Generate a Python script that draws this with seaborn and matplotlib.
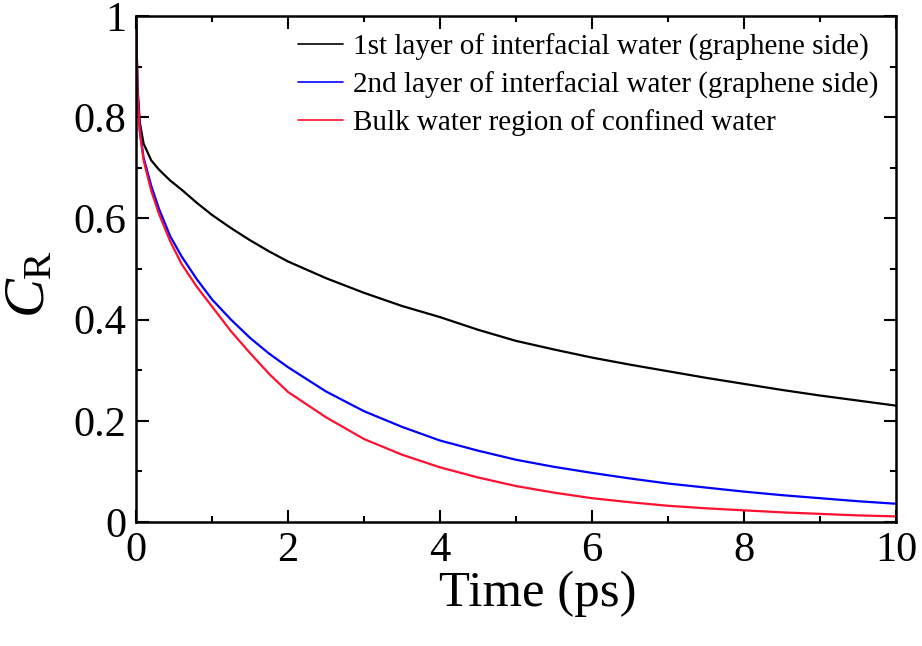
import matplotlib
matplotlib.use("Agg")
import matplotlib.pyplot as plt
from matplotlib.ticker import MultipleLocator, FuncFormatter
import pandas as pd
import seaborn as sns

time_ps = [0, 0.02, 0.05, 0.1, 0.2, 0.3, 0.45, 0.6, 0.8, 1, 1.25, 1.5, 1.75,
           2, 2.5, 3, 3.5, 4, 4.5, 5, 5.5, 6, 6.5, 7, 7.5, 8, 8.5, 9, 9.5, 10]

layer1 = [1.0, 0.86, 0.79, 0.748, 0.715, 0.697, 0.675, 0.657, 0.631, 0.607,
          0.581, 0.557, 0.535, 0.515, 0.482, 0.453, 0.427, 0.405, 0.38,
          0.358, 0.341, 0.325, 0.311, 0.298, 0.285, 0.273, 0.261, 0.250,
          0.240, 0.230]

layer2 = [1.0, 0.85, 0.775, 0.72, 0.665, 0.62, 0.565, 0.525, 0.48, 0.44,
          0.40, 0.364, 0.333, 0.306, 0.258, 0.219, 0.188, 0.161, 0.141,
          0.123, 0.109, 0.097, 0.086, 0.076, 0.068, 0.060, 0.053, 0.047,
          0.041, 0.036]

bulk = [1.0, 0.85, 0.77, 0.715, 0.655, 0.61, 0.555, 0.51, 0.465, 0.426,
        0.377, 0.334, 0.293, 0.257, 0.207, 0.164, 0.133, 0.108, 0.088,
        0.071, 0.058, 0.047, 0.039, 0.032, 0.027, 0.023, 0.019, 0.016,
        0.013, 0.011]

labels = ["1st layer of interfacial water (graphene side)",
          "2nd layer of interfacial water (graphene side)",
          "Bulk water region of confined water"]
colors = ["#000000", "#0000ff", "#ff1030"]


def build_frame():
    frames = []
    for lab, vals in zip(labels, [layer1, layer2, bulk]):
        frames.append(pd.DataFrame({"Time": time_ps, "CR": vals, "Region": lab}))
    return pd.concat(frames)


def main():
    sns.set_style("ticks")
    plt.rcParams["font.family"] = ["Liberation Serif", "DejaVu Serif"]
    plt.rcParams["mathtext.fontset"] = "custom"
    plt.rcParams["mathtext.rm"] = "Liberation Serif"
    plt.rcParams["mathtext.it"] = "Liberation Serif:italic"
    for key in ["text.color", "axes.labelcolor", "xtick.color",
                "ytick.color", "axes.edgecolor"]:
        plt.rcParams[key] = "black"

    data = build_frame()

    fig = plt.figure(figsize=(9.22, 6.46), dpi=100)
    ax = fig.add_axes([0.1475, 0.192, 0.8243, 0.783])

    sns.lineplot(data=data, x="Time", y="CR", hue="Region",
                 palette=dict(zip(labels, colors)), linewidth=1.6,
                 ax=ax, legend=False)

    ax.set_xlim(0, 10)
    ax.set_ylim(0, 1)
    ax.xaxis.set_major_locator(MultipleLocator(2))
    ax.xaxis.set_minor_locator(MultipleLocator(1))
    ax.yaxis.set_major_locator(MultipleLocator(0.2))
    ax.yaxis.set_minor_locator(MultipleLocator(0.1))
    ax.yaxis.set_major_formatter(FuncFormatter(lambda v, p: "%g" % round(v, 2)))

    ax.tick_params(which="both", direction="in", top=True, right=True,
                   width=1.5, labelsize=30.5)
    ax.tick_params(which="major", length=9, pad=7)
    ax.tick_params(which="minor", length=4.5)
    for sp in ax.spines.values():
        sp.set_linewidth(1.8)
        sp.set_visible(True)

    ax.set_xlabel("Time (ps)", fontsize=36.5)
    ax.xaxis.set_label_coords(0.529, -0.095)
    ax.set_ylabel(r"$C_{\mathrm{R}}$", fontsize=42)
    ax.yaxis.set_label_coords(-0.105, 0.47)

    handles = [plt.Line2D([], [], color=c, lw=1.2) for c in colors]
    ax.legend(handles, labels, loc="upper right", frameon=False, fontsize=21,
              handlelength=1.55, handletextpad=0.35, labelspacing=0.36,
              borderaxespad=0.2)

    fig.savefig("out.png", dpi=100)


if __name__ == "__main__":
    main()
